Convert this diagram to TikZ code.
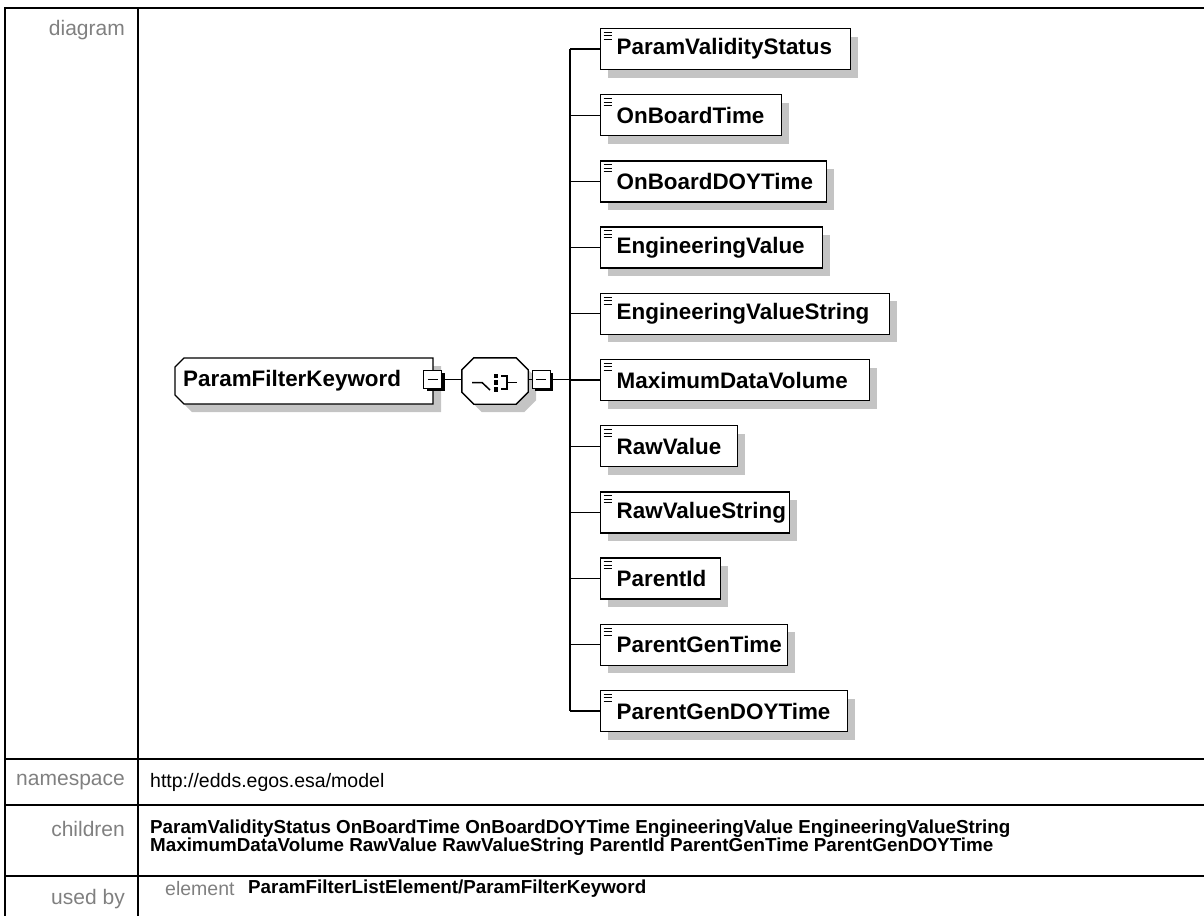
\documentclass[tikz,border=0pt]{standalone}
\usepackage{fontspec}
\setmainfont{Liberation Sans}
\definecolor{labelgray}{HTML}{808080}
\definecolor{shadowgray}{HTML}{C4C4C4}
\begin{document}
\begin{tikzpicture}[x=1pt,y=-1pt,
  tline/.style={line width=2pt},
  lbl/.style={anchor=east, text=labelgray, font=\fontsize{21}{22}\selectfont, inner sep=0pt},
  val/.style={anchor=west, font=\fontsize{18.8}{18.2}\selectfont\bfseries, inner sep=0pt, align=left},
  conn/.style={line width=1.3pt},
  cbox/.style={draw, line width=1.4pt, fill=white, minimum height=41pt, anchor=west, inner xsep=16pt, inner ysep=0pt, align=left, font=\fontsize{22.4}{24}\selectfont\bfseries},
  minusbox/.style={draw, line width=1pt, fill=white, minimum size=18pt, inner sep=0pt,
    path picture={\draw[line width=1.3pt] ([xshift=4pt]path picture bounding box.west) -- ([xshift=-4pt]path picture bounding box.east);}},
  icon/.style={line width=1pt},
  sym/.style={line width=1.5pt},
]
\useasboundingbox (0,0) rectangle (1204,916);

% ---------------- table ----------------
\draw[tline] (5,8) -- (1204,8);
\draw[tline] (5,759) -- (1204,759);
\draw[tline] (5,805) -- (1204,805);
\draw[tline] (5,876) -- (1204,876);
\draw[tline] (5,7) -- (5,916);
\draw[tline] (138,7) -- (138,916);

\node[lbl] (ldiag) at (125,30) {diagram};
\node[lbl] (lns) at (125,782) {namespace};
\node[lbl] (lch) at (125,829) {children};
\node[lbl] (lub) at (125,899) {used by};

\node[val, font=\fontsize{19.5}{20}\selectfont] (vns) at (150,782) {http://edds.egos.esa/model};
\node[val] (vch) at (150,838) {ParamValidityStatus OnBoardTime OnBoardDOYTime EngineeringValue EngineeringValueString\\MaximumDataVolume RawValue RawValueString ParentId ParentGenTime ParentGenDOYTime};
\node[val, font=\fontsize{19.5}{20}\selectfont, text=labelgray] (vel) at (165,889) {element};
\node[val] (vub) at (248,889) {ParamFilterListElement/ParamFilterKeyword};

% ---------------- main element ----------------
\fill[shadowgray] (192,366) -- (441,366) -- (441,412) -- (192,412) -- (183,403) -- (183,375) -- cycle;
\draw[line width=1.4pt, fill=white] (184,358) -- (433,358) -- (433,404) -- (184,404) -- (175,395) -- (175,367) -- cycle;
\node[anchor=west, inner sep=0pt, font=\fontsize{22.4}{24}\selectfont\bfseries] (pfk) at (183,381) {ParamFilterKeyword};

\fill[black] (426.5,372.5) rectangle (444.5,390.5);
\node[minusbox] (m1) at (432.5,379.5) {};

% ---------------- sequence compositor ----------------
\node[minimum width=66pt, minimum height=46pt, inner sep=0pt] (seq) at (495,381) {};
\fill[shadowgray] ([xshift=12pt,yshift=-8pt]seq.north west) -- ([xshift=-4pt,yshift=-8pt]seq.north east)
  -- ([xshift=8pt,yshift=-20pt]seq.north east) -- ([xshift=8pt,yshift=4pt]seq.south east)
  -- ([xshift=-4pt,yshift=-8pt]seq.south east) -- ([xshift=20pt,yshift=-8pt]seq.south west)
  -- ([xshift=8pt,yshift=4pt]seq.south west) -- ([xshift=8pt,yshift=-20pt]seq.north west) -- cycle;
\draw[line width=1.4pt, fill=white] ([xshift=12pt]seq.north west) -- ([xshift=-12pt]seq.north east)
  -- ([yshift=-12pt]seq.north east) -- ([yshift=12pt]seq.south east)
  -- ([xshift=-12pt]seq.south east) -- ([xshift=12pt]seq.south west)
  -- ([yshift=12pt]seq.south west) -- ([yshift=-12pt]seq.north west) -- cycle;
% compositor symbol
\draw[sym] ([xshift=-23pt,yshift=-1.5pt]seq.center) -- ([xshift=-13pt,yshift=-1.5pt]seq.center) -- ([xshift=-5pt,yshift=-9pt]seq.center);
\fill ([xshift=-1.5pt,yshift=-10.5pt]seq.center) rectangle ([xshift=3pt,yshift=-6pt]seq.center);
\fill ([xshift=-1.5pt,yshift=-3.5pt]seq.center) rectangle ([xshift=3pt,yshift=1pt]seq.center);
\fill ([xshift=-1.5pt,yshift=3pt]seq.center) rectangle ([xshift=3pt,yshift=7.5pt]seq.center);
\draw[sym] ([xshift=6pt,yshift=-8pt]seq.center) -- ([xshift=12pt,yshift=-8pt]seq.center) -- ([xshift=12pt,yshift=5pt]seq.center) -- ([xshift=6pt,yshift=5pt]seq.center);
\draw[sym] ([xshift=12pt,yshift=-1.5pt]seq.center) -- ([xshift=22pt,yshift=-1.5pt]seq.center);

\fill[black] (544,372.5) rectangle (553,390.5);
\fill[black] (535,382.5) rectangle (553,390.5);
\node[minusbox] (m2) at (541,379.5) {};

% ---------------- children ----------------
\coordinate (vt) at (570,49);
\coordinate (vb) at (570,711);
\draw[conn] (m1.east) -- (seq.west |- m1.east);
\draw[conn] (seq.east |- m2.west) -- (m2.west);
\draw[conn] (m2.east) -- (m2.east -| vt);
\draw[conn] (vt) -- (vb);

\foreach \nm/\yc/\w [count=\i] in {ParamValidityStatus/49/250, OnBoardTime/115.2/181, OnBoardDOYTime/181.4/226, EngineeringValue/247.6/222, EngineeringValueString/313.8/289, MaximumDataVolume/380/269, RawValue/446.2/137, RawValueString/512.4/189, ParentId/578.6/120, ParentGenTime/644.8/187, ParentGenDOYTime/711/247}{
  \pgfmathsetmacro\tw{\w-32}
  \pgfmathsetmacro\xr{608+\w}
  \fill[shadowgray] (608,\yc-12.5) rectangle (\xr,\yc+28.5);
  \node[cbox, text width=\tw pt, minimum width=\w pt] (c\i) at (600,\yc) {\nm};
  \draw[icon] ([xshift=3.5pt,yshift=-4.5pt]c\i.north west) -- ([xshift=12pt,yshift=-4.5pt]c\i.north west);
  \draw[icon] ([xshift=3.5pt,yshift=-8pt]c\i.north west) -- ([xshift=12pt,yshift=-8pt]c\i.north west);
  \draw[icon] ([xshift=3.5pt,yshift=-11.5pt]c\i.north west) -- ([xshift=12pt,yshift=-11.5pt]c\i.north west);
  \draw[conn] (c\i.west -| vt) -- (c\i.west);
}
\end{tikzpicture}
\end{document}
